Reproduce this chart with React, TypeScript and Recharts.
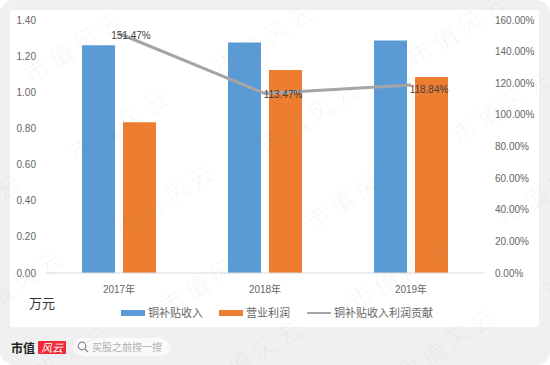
import React from "react";
import { Bar, ComposedChart, LabelList, Legend, Line, XAxis, YAxis } from "recharts";

const years = ["2017年", "2018年", "2019年"];
const subsidyIncome = [1.26, 1.275, 1.286];
const operatingProfit = [0.834, 1.123, 1.084];
const subsidyShare = [151.47, 113.47, 118.84];

const leftTicks = [0, 0.2, 0.4, 0.6, 0.8, 1.0, 1.2, 1.4];
const rightTicks = [0, 20, 40, 60, 80, 100, 120, 140, 160];

const FONT = '"Liberation Sans", "Noto Sans CJK SC", sans-serif';
const TICK = { fontSize: 10, fill: "#666666", fontFamily: FONT };

// label nudges, the data labels were dragged around by hand in the original
const labelNudge = [
  { dx: 12, dy: 2 },
  { dx: 18, dy: 1 },
  { dx: 18, dy: 4 },
];

// watermark centres
const marks = [
  [75, 45], [120, 123], [166, 198], [211, 277], [254, 354],
  [265, 38], [310, 116], [356, 192], [400, 272], [447, 342],
  [459, 28], [503, 105], [549, 188], [594, 262],
  [-28, 208], [14, 284], [60, 360],
];

const chartData = years.map((year, i) => ({
  year,
  income: subsidyIncome[i],
  profit: operatingProfit[i],
  share: subsidyShare[i],
}));

function ShareLabel(props: any) {
  const { x, y, value, index } = props;
  const nudge = labelNudge[index];
  return (
    <text
      x={x + nudge.dx}
      y={y + nudge.dy}
      textAnchor="middle"
      dominantBaseline="central"
      fontSize={10}
      fill="#404040"
      fontFamily={FONT}
    >
      {value.toFixed(2)}%
    </text>
  );
}

function ChartLegend({ payload }: any) {
  return (
    <div style={{ position: "relative", width: 340, height: 14, fontFamily: FONT, fontSize: 11, color: "#666666" }}>
      {payload.map((item: any, i: number) => {
        const left = [0, 98, 186][i];
        const isLine = item.type === "line";
        return (
          <div key={item.value} style={{ position: "absolute", left, top: 0, whiteSpace: "nowrap", lineHeight: "14px" }}>
            <span
              style={{
                position: "absolute",
                left: 0,
                top: isLine ? 6 : 4,
                width: 24,
                height: isLine ? 2 : 6,
                background: item.color,
              }}
            />
            <span style={{ marginLeft: 27 }}>{item.value}</span>
          </div>
        );
      })}
    </div>
  );
}

export default function App() {
  return (
    <div style={{ position: "fixed", left: 0, top: 0, width: 550, height: 365, background: "#ffffff", overflow: "hidden" }}>
      <div style={{ position: "absolute", inset: 0, background: "#f0f0f0", borderRadius: 14 }} />
      <div style={{ position: "absolute", left: 10, top: 10, width: 529, height: 317, background: "#ffffff", borderRadius: 2 }} />

      <div style={{ position: "absolute", left: 0, top: 0 }}>
        <ComposedChart
          width={550}
          height={365}
          data={chartData}
          margin={{ top: 20, right: 0, bottom: 62, left: 0 }}
          barCategoryGap={36}
          barGap={8}
        >
          <XAxis
            dataKey="year"
            tick={TICK}
            tickLine={false}
            axisLine={{ stroke: "#d9d9d9" }}
            tickMargin={7}
            height={30}
          />
          <YAxis
            yAxisId="left"
            width={46}
            domain={[0, 1.4]}
            ticks={leftTicks}
            tickFormatter={(v: number) => v.toFixed(2)}
            tick={TICK}
            tickLine={false}
            axisLine={false}
            tickMargin={4}
          />
          <YAxis
            yAxisId="right"
            orientation="right"
            width={66}
            domain={[0, 160]}
            ticks={rightTicks}
            tickFormatter={(v: number) => `${v.toFixed(2)}%`}
            tick={TICK}
            tickLine={false}
            axisLine={false}
            tickMargin={5}
          />
          <Bar yAxisId="left" dataKey="income" name="铜补贴收入" fill="#5b9bd5" barSize={33} isAnimationActive={false} legendType="rect" />
          <Bar yAxisId="left" dataKey="profit" name="营业利润" fill="#ed7d31" barSize={33} isAnimationActive={false} legendType="rect" />
          <Line
            yAxisId="right"
            dataKey="share"
            name="铜补贴收入利润贡献"
            stroke="#a5a5a5"
            strokeWidth={3}
            dot={false}
            isAnimationActive={false}
            legendType="line"
          >
            <LabelList dataKey="share" content={<ShareLabel />} />
          </Line>
          <Legend
            layout="horizontal"
            verticalAlign="middle"
            align="center"
            itemSorter={null}
            content={<ChartLegend />}
            wrapperStyle={{ left: 121, top: 306, width: 340, bottom: "auto" }}
          />
        </ComposedChart>
      </div>

      <div style={{ position: "absolute", left: 29, top: 296, fontFamily: FONT, fontSize: 13, color: "#333333", lineHeight: "16px" }}>万元</div>

      {/* footer */}
      <div style={{ position: "absolute", left: 11, top: 340, fontFamily: '"Noto Sans CJK SC", serif', fontWeight: 700, fontSize: 12, color: "#222222", lineHeight: "15px" }}>市值</div>
      <div style={{ position: "absolute", left: 38, top: 341, width: 28, height: 13, background: "#ee2b35", borderRadius: 1, color: "#ffffff", fontFamily: '"Noto Sans CJK SC"', fontSize: 11, fontStyle: "italic", lineHeight: "13px", textAlign: "center" }}>风云</div>
      <div style={{ position: "absolute", left: 73, top: 338, width: 97, height: 18, background: "#fafafa", borderRadius: 9 }}>
        <svg width={12} height={12} style={{ position: "absolute", left: 4, top: 3 }}>
          <circle cx={5} cy={5} r={3.8} fill="none" stroke="#888888" strokeWidth={1.2} />
          <line x1={8} y1={8} x2={11} y2={11} stroke="#888888" strokeWidth={1.2} />
        </svg>
        <span style={{ position: "absolute", left: 19, top: 0, fontFamily: '"Noto Sans CJK SC"', fontSize: 10, color: "#b0b0b0", lineHeight: "18px", whiteSpace: "nowrap" }}>买股之前搜一搜</span>
      </div>

      {/* watermark */}
      {marks.map(([x, y]) => (
        <div
          key={`${x}-${y}`}
          style={{
            position: "absolute",
            left: x - 60,
            top: y - 15,
            width: 120,
            height: 30,
            lineHeight: "30px",
            textAlign: "center",
            transform: "rotate(-32deg)",
            fontFamily: '"Noto Sans CJK SC"',
            fontWeight: 300,
            fontSize: 24,
            letterSpacing: 5,
            color: "rgba(110,110,110,0.07)",
            whiteSpace: "nowrap",
            pointerEvents: "none",
          }}
        >
          市值风云
        </div>
      ))}
    </div>
  );
}
